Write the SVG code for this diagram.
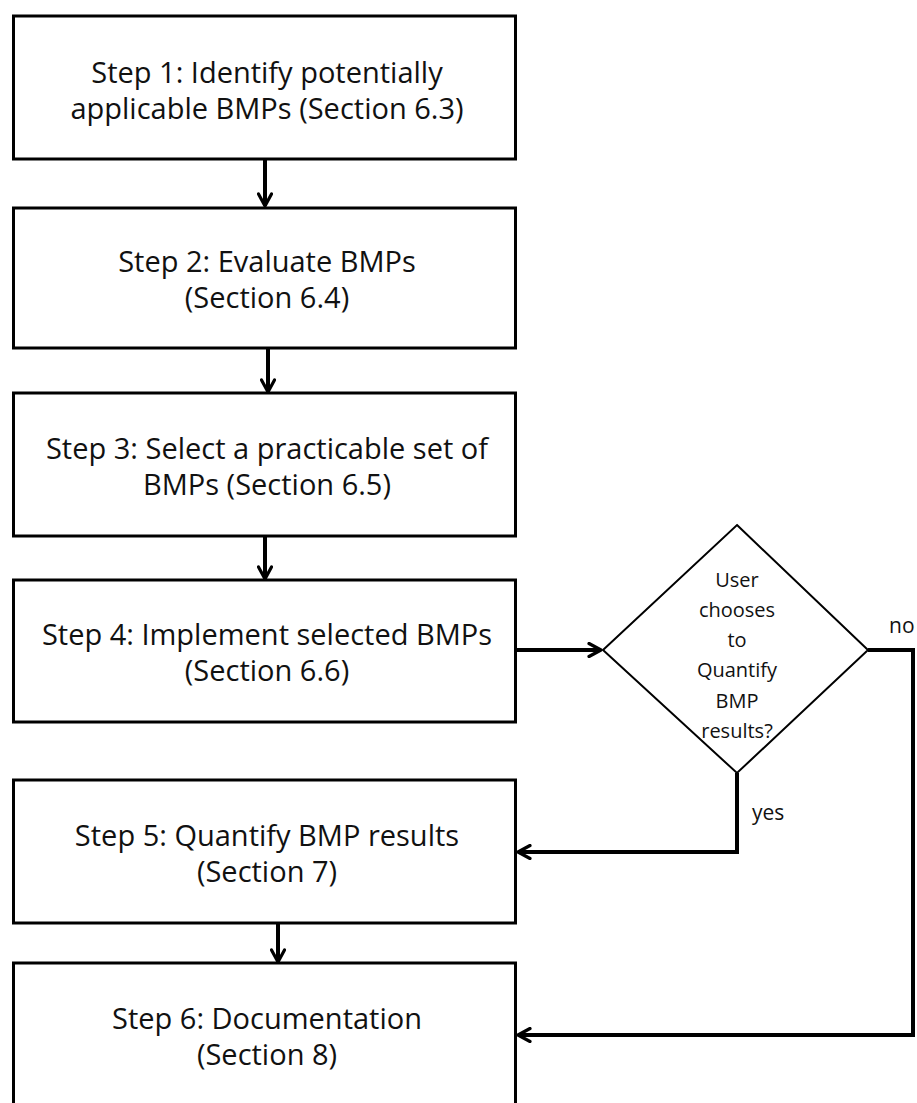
<svg xmlns="http://www.w3.org/2000/svg" width="917" height="1103" viewBox="0 0 917 1103">
<defs>
<style>
.box{fill:#fff;stroke:#000;stroke-width:3}
.dia{fill:#fff;stroke:#000;stroke-width:2}
.t{font-family:"Open Sans","Liberation Sans",sans-serif;font-size:29px;fill:#111;text-anchor:middle}
.d{font-family:"Open Sans","Liberation Sans",sans-serif;font-size:20px;fill:#111;text-anchor:middle}
.l{font-family:"Open Sans","Liberation Sans",sans-serif;font-size:21px;fill:#111}
.c{fill:none;stroke:#000;stroke-width:4}
</style>
<marker id="ah" viewBox="0 0 16 16" refX="14" refY="8" markerWidth="16" markerHeight="16" markerUnits="userSpaceOnUse" orient="auto">
<path d="M2,1.5 L14,8 L2,14.5" fill="none" stroke="#000" stroke-width="3.2" stroke-linecap="round" stroke-linejoin="round"/>
</marker>
</defs>
<rect width="917" height="1103" fill="#fff"/>
<g id="connectors">
<line class="c" x1="265" y1="160" x2="265" y2="206" marker-end="url(#ah)"/>
<line class="c" x1="268" y1="349" x2="268" y2="392" marker-end="url(#ah)"/>
<line class="c" x1="265" y1="537" x2="265" y2="579" marker-end="url(#ah)"/>
<line class="c" x1="517" y1="650" x2="601" y2="650" marker-end="url(#ah)"/>
<polyline class="c" points="868,650 913,650 913,1035 518,1035" marker-end="url(#ah)"/>
<polyline class="c" points="737,773 737,852 518,852" marker-end="url(#ah)"/>
<line class="c" x1="278" y1="924" x2="278" y2="962" marker-end="url(#ah)"/>
</g>
<g id="step1">
<rect class="box" x="13.5" y="16" width="502" height="143"/>
<text class="t" x="267" y="83">Step 1: Identify potentially</text>
<text class="t" x="267" y="119">applicable BMPs (Section 6.3)</text>
</g>
<g id="step2">
<rect class="box" x="13.5" y="208" width="502" height="140"/>
<text class="t" x="267" y="272">Step 2: Evaluate BMPs</text>
<text class="t" x="267" y="308">(Section 6.4)</text>
</g>
<g id="step3">
<rect class="box" x="13.5" y="393" width="502" height="143"/>
<text class="t" x="267" y="459">Step 3: Select a practicable set of</text>
<text class="t" x="267" y="495">BMPs (Section 6.5)</text>
</g>
<g id="step4">
<rect class="box" x="13.5" y="580" width="502" height="142"/>
<text class="t" x="267" y="645">Step 4: Implement selected BMPs</text>
<text class="t" x="267" y="681">(Section 6.6)</text>
</g>
<g id="decision">
<polygon class="dia" points="737,525 868,650 737,773 603,650"/>
<text class="d" x="737" y="587">User</text>
<text class="d" x="737" y="617">chooses</text>
<text class="d" x="737" y="647">to</text>
<text class="d" x="737" y="677">Quantify</text>
<text class="d" x="737" y="708">BMP</text>
<text class="d" x="737" y="738">results?</text>
</g>
<g id="labels">
<text class="l" x="889" y="633">no</text>
<text class="l" x="752" y="820">yes</text>
</g>
<g id="step5">
<rect class="box" x="13.5" y="780" width="502" height="143"/>
<text class="t" x="267" y="846">Step 5: Quantify BMP results</text>
<text class="t" x="267" y="882">(Section 7)</text>
</g>
<g id="step6">
<rect class="box" x="13.5" y="963" width="502" height="150"/>
<text class="t" x="267" y="1029">Step 6: Documentation</text>
<text class="t" x="267" y="1065">(Section 8)</text>
</g>
</svg>
